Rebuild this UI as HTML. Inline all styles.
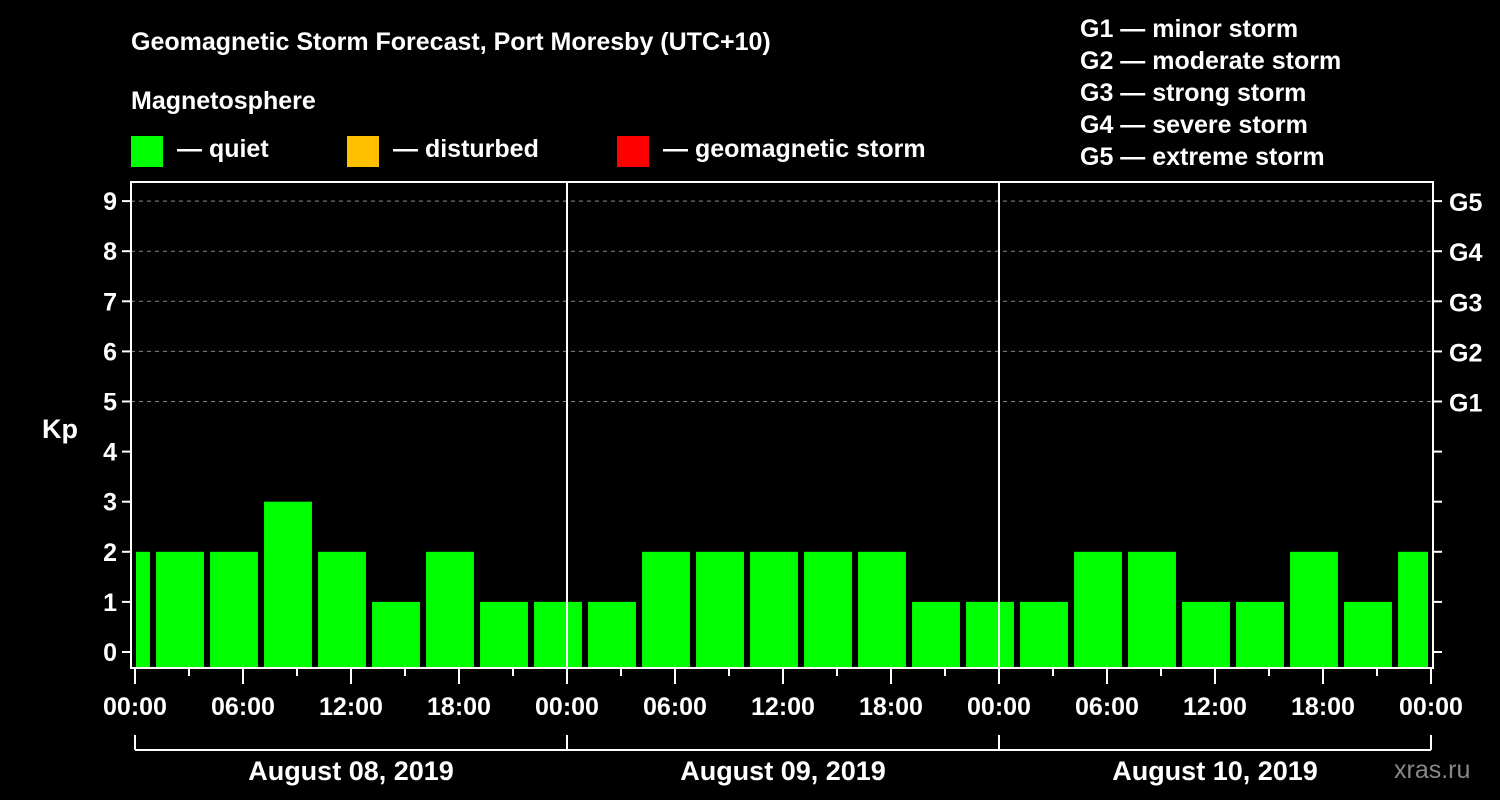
<!DOCTYPE html>
<html><head><meta charset="utf-8"><style>
html,body{margin:0;padding:0;background:#000;}
svg{display:block;font-family:"Liberation Sans",Arial,sans-serif;font-weight:bold;}
</style></head><body>
<svg id="chart" width="1500" height="800" viewBox="0 0 1500 800">
<text x="131" y="50" fill="#fff" font-size="25">Geomagnetic Storm Forecast, Port Moresby (UTC+10)</text>
<text x="131" y="109" fill="#fff" font-size="25">Magnetosphere</text>
<g><rect x="131" y="136" width="32" height="31" fill="#00ff00"/><text x="177" y="157" fill="#fff" font-size="25">— quiet</text></g>
<g><rect x="347" y="136" width="32" height="31" fill="#ffc000"/><text x="393" y="157" fill="#fff" font-size="25">— disturbed</text></g>
<g><rect x="617" y="136" width="32" height="31" fill="#ff0000"/><text x="663" y="157" fill="#fff" font-size="25">— geomagnetic storm</text></g>
<g fill="#fff" font-size="25">
<text x="1080" y="37">G1 — minor storm</text>
<text x="1080" y="69">G2 — moderate storm</text>
<text x="1080" y="101">G3 — strong storm</text>
<text x="1080" y="133">G4 — severe storm</text>
<text x="1080" y="165">G5 — extreme storm</text>
</g>
<text x="42" y="438" fill="#fff" font-size="27">Kp</text>
<text x="1394" y="778" fill="#888" font-size="25" font-weight="normal">xras.ru</text>
<g id="grid"></g><g id="bars"></g><g id="axes"></g>
</svg>
<script>
const kpValues=[2,2,2,3,2,1,2,1,1,1,2,2,2,2,2,1,1,1,2,2,1,1,2,1,2];
const barCenterHours=[-0.5,2.5,5.5,8.5,11.5,14.5,17.5,20.5,23.5,26.5,29.5,32.5,35.5,38.5,41.5,44.5,47.5,50.5,53.5,56.5,59.5,62.5,65.5,68.5,71.5];
const yTicks=[0,1,2,3,4,5,6,7,8,9];
const gLabels=["G1","G2","G3","G4","G5"];
const xTickLabels=["00:00","06:00","12:00","18:00","00:00","06:00","12:00","18:00","00:00","06:00","12:00","18:00","00:00"];
const dayLabels=["August 08, 2019","August 09, 2019","August 10, 2019"];
const NS="http://www.w3.org/2000/svg";
const L=131,R=1433,T=182,B=668;
const x=h=>135+h*18;
const y=v=>652-v*50.1;
function mk(p,tag,a){const e=document.createElementNS(NS,tag);for(const k in a)e.setAttribute(k,a[k]);document.getElementById(p).appendChild(e);return e;}
// grid
for(let v=5;v<=9;v++){const e=mk('grid','line',{x1:L,x2:R,y1:y(v),y2:y(v),stroke:'#888','stroke-dasharray':'4,4','stroke-width':1});

}
// bars
kpValues.forEach((v,i)=>{let x0=x(barCenterHours[i]-1.33),x1=x(barCenterHours[i]+1.33);x0=Math.max(x0,L+5);x1=Math.min(x1,R-5);
const e=mk('bars','rect',{x:x0,y:y(v),width:x1-x0,height:B-y(v),fill:'#00ff00'});

});
// day separators
[24,48].forEach(h=>{const e=mk('axes','line',{x1:x(h),x2:x(h),y1:T,y2:B,stroke:'#fff','stroke-width':2});

});
// frame
const f=mk('axes','rect',{x:L,y:T,width:R-L,height:B-T,fill:'none',stroke:'#fff','stroke-width':2});


// y ticks
yTicks.forEach(v=>{mk('axes','line',{x1:L-9,x2:L,y1:y(v),y2:y(v),stroke:'#fff','stroke-width':2});
mk('axes','line',{x1:R,x2:R+9,y1:y(v),y2:y(v),stroke:'#fff','stroke-width':2});
const t=mk('axes','text',{x:L-14,y:y(v)+9,fill:'#fff','font-size':25,'text-anchor':'end'});t.textContent=v;

});
gLabels.forEach((g,i)=>{const t=mk('axes','text',{x:1449,y:y(5+i)+10,fill:'#fff','font-size':25});t.textContent=g;

});
// x ticks
for(let h=0;h<=72;h+=3){const maj=h%6===0;mk('axes','line',{x1:x(h),x2:x(h),y1:B,y2:B+(maj?16:8),stroke:'#fff','stroke-width':2});}
xTickLabels.forEach((s,i)=>{const t=mk('axes','text',{x:x(i*6),y:715,fill:'#fff','font-size':25,'text-anchor':'middle'});t.textContent=s;

});
// day bracket
mk('axes','line',{x1:x(0),x2:x(72),y1:750,y2:750,stroke:'#fff','stroke-width':2});
[0,24,48,72].forEach(h=>mk('axes','line',{x1:x(h),x2:x(h),y1:735,y2:750,stroke:'#fff','stroke-width':2}));
dayLabels.forEach((s,i)=>{const t=mk('axes','text',{x:x(i*24+12),y:780,fill:'#fff','font-size':27,'text-anchor':'middle'});t.textContent=s;

});
</script>
</body></html>
